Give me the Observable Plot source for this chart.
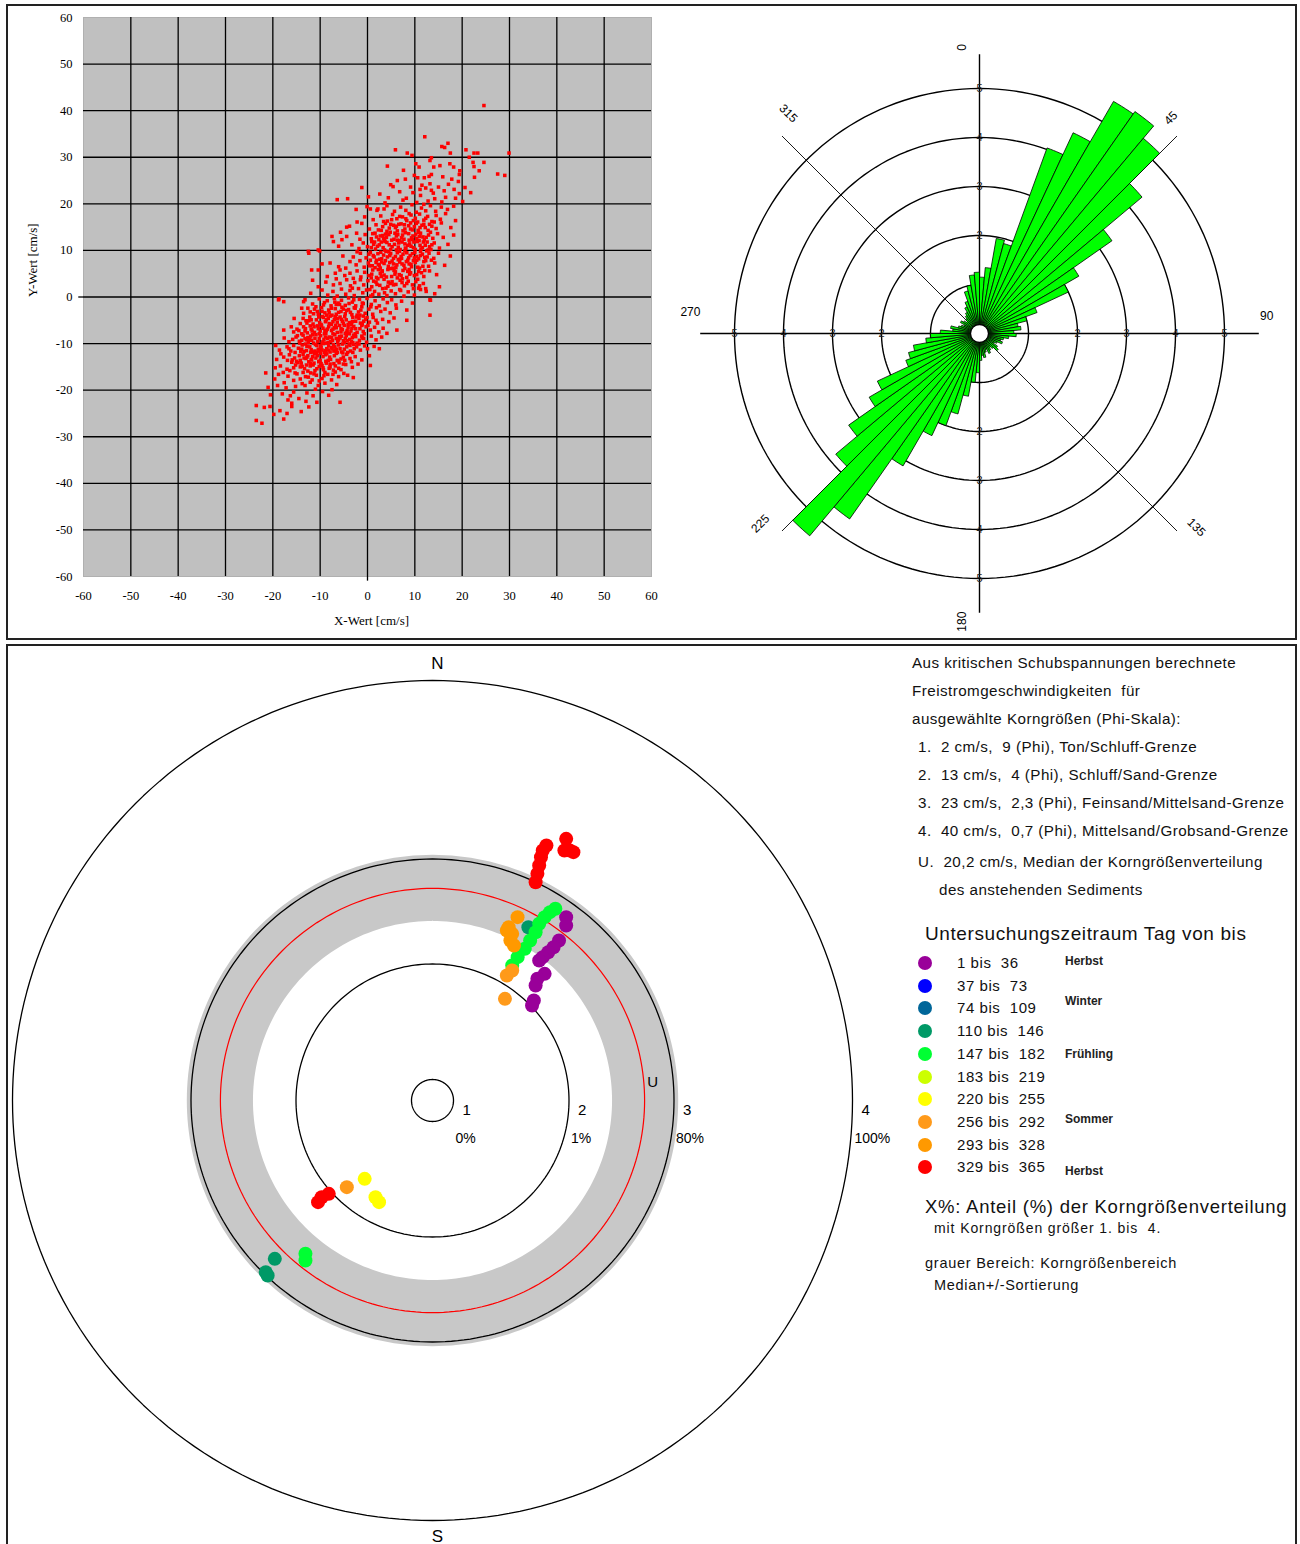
<!DOCTYPE html>
<html><head><meta charset="utf-8">
<script src="https://cdn.jsdelivr.net/npm/d3@7"></script>
<script src="https://cdn.jsdelivr.net/npm/@observablehq/plot@0.6"></script>
<style>
body{margin:0;background:#fff;width:1300px;height:1544px;position:relative;overflow:hidden;font-family:"Liberation Sans",Arial,sans-serif;color:#111}
.box{position:absolute;border:2px solid #222;box-sizing:border-box}
#topbox{left:6px;top:4px;width:1291px;height:636px}
#bottombox{left:6px;top:644px;width:1291px;height:940px}
.abs{position:absolute}
#notes div{position:absolute;white-space:pre;font-size:15.2px;line-height:18px;letter-spacing:0.45px}
#legend .row{position:absolute;left:0;height:20px;font-size:15px;line-height:20px;white-space:pre;letter-spacing:0.55px}
#legend .dot{position:absolute;left:-7px;top:3px;width:14px;height:14px;border-radius:50%}
#legend .season{position:absolute;left:140px;font-size:12px;white-space:pre;font-family:"Liberation Sans Narrow","Liberation Sans",sans-serif;font-weight:bold;color:#222}
</style></head><body>
<div id="topbox" class="box"></div>
<div id="bottombox" class="box"></div>
<div id="scatter" class="abs" style="left:10px;top:8px"></div>
<div id="rose" class="abs" style="left:665px;top:10px"></div>
<div id="polar" class="abs" style="left:10px;top:648px"></div>
<div id="notes" class="abs" style="left:912px;top:654px"></div>
<div id="legend" class="abs" style="left:925px;top:920px"></div>
<script>
// ---------- DATA ----------
const scatterTicks = [-60,-50,-40,-30,-20,-10,0,10,20,30,40,50,60];
const scatterXY = [
[-23.5,-23.3],[-21.8,-23.7],[-20.6,-23.5],[-23.5,-26.5],[-22.3,-27.1],[-18.5,-24.4],[-17.7,-26.2],[-16,-23.5],[-16,-22.8],[-16.3,-21.2],[-15.6,-20.4],[-17.2,-19.5],[-19,-19],[-13.2,-19],[-12.1,-18.3],[-10.4,-19],[-10.7,-22.6],[-7.5,-19.9],[-5.8,-22.6],[-20.5,-21],[-18,-20.8],[-14.5,-21.8],[-12.8,-20.6],[-11.5,-21.2],[-14,-24.6],[-13,-22.4],[-19.8,-25.2],[-9.5,-20.3],[-8.2,-21.1],[-15.2,-19.2],[-17.6,-18.4],[-11,-19.8],[-13.8,-18.6],[-16.8,-22.1],[-21,-19.4],[-12.4,-23.6],[-17,-25],[-9,-18.5],[-6.5,-18.8],
[-21.5,-16.3],[-18.8,-16.6],[-15.6,-17.9],[-14.9,-16.5],[-3,-17.3],[-6.1,-17.1],[-6.8,-16.1],[-12.5,-17.2],[-10.8,-16.8],[-9.6,-17.5],[-13.6,-16.2],[-11.7,-17.8],[-8.4,-16.6],[-16.8,-17],[-19.6,-17.6],[-7.6,-17.8],[-5,-16.4],[-12,-16.3],[-14.2,-17.6],[-10.2,-18],[-17.8,-16.2],[-9,-16.2],[-4.2,-16.8],
[-7.9,-15],[-16,-14],[-14.2,-15],[-12.1,-14.3],[-11.1,-15.8],[0.6,-14.7],[-18.4,-14.8],[-17,-15.5],[-15.2,-14.6],[-13.3,-15.4],[-10.2,-14.9],[-9.3,-15.6],[-8.7,-14.2],[-6.8,-14.8],[-5.6,-15.6],[-4.6,-14.5],[-12.6,-15.9],[-14,-14.2],[-11.5,-14.6],[-9.8,-14.3],[-7.2,-15.7],[-16.4,-15.8],[-3.2,-15.1],[-19.5,-15.2],[-10.7,-15.4],[-13.8,-14.9],[-8.1,-15.3],[-6,-14.1],[-15.6,-15.2],[-2,-14.4],
[-17.7,-12.9],[-14.2,-13.6],[-12.8,-12.9],[-10,-13.6],[-3.7,-13.2],[-8.6,-12.2],[-5.1,-12.9],[-19.2,-13.4],[-16.5,-12.4],[-15.4,-13.1],[-13.6,-12.3],[-11.9,-13.5],[-11.2,-12.2],[-9.4,-12.8],[-7.8,-13.4],[-7,-12.6],[-6.2,-13.7],[-4.4,-12.3],[-2.6,-12.8],[-1.2,-13.5],[-15,-13.8],[-12.4,-13.9],[-10.6,-12.6],[-8.8,-13.8],[-6.6,-12.1],[-13,-13.2],[-9.9,-12.1],[-16.9,-13.6],[-5.6,-13.3],[-11.6,-12.8],[-14.4,-12.6],[-8,-12.9],[0.4,-12.6],[-3.4,-13.9],[-18.3,-12.2],
[-15.6,-10.4],[-17,-10.7],[-6.8,-11.4],[-4.4,-10.7],[-2.3,-10.7],[2.5,-11.1],[0,-11.1],[-10.7,-10.4],[-9.3,-10],[-18.6,-11.4],[-16.2,-11.6],[-14.6,-11],[-13.8,-10.3],[-12.9,-11.5],[-12.2,-10.7],[-11.4,-11.8],[-10.4,-11.2],[-9.8,-10.8],[-8.9,-11.5],[-8.2,-10.5],[-7.5,-11.1],[-6.1,-10.3],[-5.5,-11.8],[-4.9,-11.2],[-3.6,-11.6],[-2.9,-10.2],[-1.5,-11.4],[-0.6,-10.5],[-13.1,-10.1],[-11,-10.2],[-9.1,-11.9],[-7.2,-10.2],[-6.4,-11.9],[-3.9,-10.1],[-14.1,-11.7],[-10.1,-11.6],[-8.6,-11.1],[-12,-11.9],[1.4,-10.6],[-19.4,-10.4],
[-13.2,-8.9],[-11.8,-9.3],[-0.8,-8.9],[-16.6,-9.6],[-15.1,-8.6],[-14.4,-9.5],[-13.6,-8.2],[-12.5,-9.8],[-12,-8.4],[-11.1,-8.9],[-10.5,-9.6],[-9.9,-8.3],[-9.2,-9.1],[-8.6,-9.9],[-8.1,-8.6],[-7.4,-9.3],[-6.9,-8.1],[-6.3,-9.7],[-5.8,-8.8],[-5.1,-9.4],[-4.5,-8.3],[-3.8,-9.1],[-3.1,-9.8],[-2.5,-8.5],[-1.7,-9.3],[-0.2,-9.7],[0.8,-8.4],[-10.9,-8.1],[-9.6,-9.9],[-7.8,-9.6],[-6.6,-8.9],[-4.8,-9.8],[-2.9,-8.2],[-12.9,-9.2],[-14.8,-8.3],[-8.4,-8.9],[-5.5,-8.4],[-3.4,-9.5],[-1.2,-8.4],[1.8,-9.2],[-17.6,-8.8],[3,-8.6],
[-17.7,-7.1],[-15.6,-7.5],[6.2,-7.1],[4.1,-7.8],[-16.1,-6.4],[-14.5,-7.2],[-13.5,-6.4],[-12.7,-7.7],[-11.9,-6.9],[-11.2,-7.6],[-10.6,-6.2],[-10,-7.3],[-9.4,-6.7],[-8.8,-7.8],[-8.2,-6.4],[-7.6,-7.2],[-7,-6.6],[-6.4,-7.6],[-5.9,-6.1],[-5.3,-7],[-4.7,-7.8],[-4.1,-6.5],[-3.5,-7.3],[-2.9,-6.3],[-2.2,-7.6],[-1.6,-6.8],[-0.9,-7.4],[-0.3,-6.4],[0.6,-7.1],[1.5,-6.5],[2.4,-7.5],[-12.1,-6.2],[-9.1,-7.9],[-6.7,-6.1],[-3.8,-7.9],[-1.2,-6.1],[-13.9,-7.9],[-8.5,-6.9],[-5.6,-7.5],[3.3,-6.7],
[-14.2,-5.7],[8.3,-5],[-15.5,-4.6],[-13,-5.1],[-12.2,-4.3],[-11.5,-5.8],[-10.8,-4.9],[-10.1,-5.5],[-9.5,-4.2],[-8.9,-5.3],[-8.3,-4.6],[-7.6,-5.9],[-7,-4.8],[-6.4,-5.4],[-5.8,-4.3],[-5.1,-5.7],[-4.5,-4.9],[-3.8,-5.5],[-3.1,-4.4],[-2.5,-5.2],[-1.8,-4.6],[-1.1,-5.8],[-0.4,-4.8],[0.4,-5.4],[1.2,-4.4],[2.1,-5.6],[3.2,-4.8],[4.5,-5.3],[-9.8,-5.9],[-6.8,-4.2],[-3.4,-5.9],[-0.9,-4.1],[1.8,-5],[-12.8,-5.6],[5.6,-4.5],
[-13.5,-3.5],[-13.9,-2.4],[-12.1,-3.2],[13.2,-3.9],[8.3,-2.8],[-11.2,-2.6],[-10.4,-3.7],[-9.7,-2.3],[-9,-3.4],[-8.2,-2.8],[-7.5,-3.9],[-6.8,-2.5],[-6.1,-3.3],[-5.4,-2.2],[-4.7,-3.6],[-4,-2.7],[-3.3,-3.8],[-2.6,-2.4],[-1.9,-3.2],[-1.2,-2.1],[-0.5,-3.5],[0.3,-2.6],[1.1,-3.7],[1.9,-2.3],[2.8,-3.1],[3.7,-2.6],[4.8,-3.4],[6.1,-2.4],[-8.6,-3.9],[-5.6,-3.1],[-2.2,-3.9],[0.7,-2.1],[-10.9,-2.1],
[-13.5,-1],[-13.2,-0.6],[-18.8,-0.6],[-17.7,-1],[13.2,-0.6],[-11.6,-1.5],[-10.2,-0.4],[-9.3,-1.7],[-8.5,-0.8],[-7.7,-1.9],[-7,-0.3],[-6.2,-1.3],[-5.5,-0.7],[-4.7,-1.8],[-4,-0.2],[-3.2,-1.1],[-2.5,-1.9],[-1.7,-0.5],[-0.9,-1.4],[-0.1,-0.3],[0.8,-1.6],[1.6,-0.8],[2.5,-1.9],[3.3,-0.4],[4.2,-1.2],[5.1,-0.6],[6,-1.7],[7.2,-0.9],[9.5,-1.3],[-6.6,-1.6],[-2.9,-0.6],[13.3,-0.7],[-18.7,-0.4],
[10.8,1.9],[12.4,1.2],[9.9,0.4],[-12,0.8],[-9.6,1.5],[-8.4,0.4],[-7.3,1.2],[-6.4,0.2],[-5.5,1.7],[-4.6,0.6],[-3.7,1.4],[-2.8,0.3],[-1.9,1.8],[-1,0.9],[-0.2,1.5],[0.7,0.2],[1.5,1.2],[2.4,0.6],[3.2,1.8],[4.1,0.3],[5,1.3],[5.9,0.7],[6.8,1.6],[7.7,0.2],[8.6,1.1],[3.6,0.9],[-3.2,1.9],[1.1,0.5],[14.2,0.7],[11.2,1.6],[12.3,1.8],
[-10.4,2.2],[-7.2,2.6],[-5.8,2.9],[-4.4,3.7],[-1.5,3.7],[-8.8,3.2],[-6.6,3.9],[-3.6,2.4],[-2.7,3.1],[-0.8,2.6],[0.1,3.5],[0.9,2.2],[1.8,3.2],[2.6,2.5],[3.5,3.8],[4.3,2.3],[5.2,3.3],[6,2.7],[6.9,3.6],[7.8,2.4],[8.6,3.4],[9.5,2.6],[10.6,3.8],[11.8,2.9],[2.2,3.9],[4.8,2.9],[7.3,3.1],[-11.6,3.6],[15.2,2.2],
[-3,4],[-10.4,5.8],[-11.8,5.8],[-5.8,5.8],[-6.8,5.1],[-3.7,5.1],[-8.5,4.4],[-2.2,5.6],[-1.4,4.3],[-0.6,5.3],[0.3,4.6],[1.1,5.8],[1.9,4.2],[2.7,5.1],[3.5,4.7],[4.3,5.9],[5.1,4.4],[5.9,5.4],[6.7,4.8],[7.5,5.7],[8.3,4.2],[9.1,5.2],[9.9,4.6],[10.8,5.5],[11.9,4.4],[13.1,5.6],[0.8,4.1],[3.1,5.6],[6.3,4.1],[8.8,5.9],[-4.8,4.6],[14.6,4.8],
[-7.9,7.3],[-6.1,6.5],[-3.7,7.6],[-9.6,7.1],[-4.6,6.2],[-2.4,6.9],[-1.6,7.8],[-0.7,6.4],[0.2,7.3],[1,6.7],[1.9,7.9],[2.7,6.2],[3.5,7.2],[4.4,6.6],[5.2,7.7],[6,6.3],[6.8,7.5],[7.7,6.8],[8.5,7.9],[9.3,6.5],[10.1,7.4],[11,6.2],[11.9,7.6],[12.9,6.6],[14.2,7.3],[2.3,7],[4.9,6.1],[7.3,7.1],[9.7,7.8],[0.6,7.9],[16.3,6.8],
[-3,8.6],[-1.5,9.4],[15,9.4],[-12.5,9.8],[-5.2,8.8],[-0.3,8.4],[0.6,9.6],[1.4,8.6],[2.2,9.3],[3,8.2],[3.9,9.8],[4.7,8.9],[5.5,8.3],[6.3,9.5],[7.1,8.7],[7.9,9.9],[8.7,8.4],[9.5,9.3],[10.4,8.7],[11.2,9.8],[12.1,8.5],[13,9.4],[14,8.3],[3.4,9],[6.8,8.1],[10,9.6],[12.5,9.9],[-2.2,9.7],[17.5,8.8],[-10.1,9.9],[-12.4,9.4],
[-10.4,10.1],[-7.2,11.9],[-6.1,10.9],[-1.8,10.4],[-0.9,11.6],[0,10.8],[0.9,11.9],[1.7,10.3],[2.5,11.2],[3.3,10.6],[4.1,11.7],[4.9,10.2],[5.7,11.3],[6.5,10.7],[7.3,11.8],[8.1,10.4],[8.9,11.4],[9.7,10.6],[10.5,11.9],[11.3,10.3],[12.2,11.1],[13.1,10.8],[14.1,11.6],[15.2,10.5],[3.7,11.9],[6.1,10.1],[9.2,10.9],[11.8,11.8],[-3.3,11.2],[17,11.3],
[-7.5,13],[-4.4,13],[-2.3,13.7],[-0.5,13.4],[0.8,12.5],[1.6,13.7],[2.4,12.3],[3.2,13.2],[4,12.8],[4.8,13.9],[5.6,12.4],[6.4,13.4],[7.2,12.7],[8,13.8],[8.8,12.2],[9.6,13.1],[10.4,12.6],[11.2,13.7],[12,12.3],[12.9,13.3],[13.8,12.6],[14.8,13.6],[16,12.8],[6.8,12.1],[10.8,13.9],[3.6,12.1],[-1.6,12.4],[18.2,13.3],[-5.4,12.3],[-5.7,13.9],
[-3.8,15.2],[0.4,14.6],[1.8,15.5],[2.9,14.3],[3.8,15.8],[4.6,14.8],[5.5,15.4],[6.3,14.2],[7.1,15.7],[7.9,14.6],[8.7,15.3],[9.5,14.4],[10.3,15.8],[11.1,14.9],[11.9,15.6],[12.8,14.3],[13.6,15.2],[14.5,14.7],[15.6,15.9],[9.1,15.9],[6.6,15.6],[17.6,14.9],[-1.2,15.8],[-4.4,15],
[1.2,16.6],[2.8,17.4],[4.2,16.3],[5.3,17.7],[6.2,16.8],[7.4,17.2],[8.3,16.4],[9.2,17.6],[10.1,16.9],[11,17.8],[11.9,16.5],[12.7,17.3],[13.6,16.2],[14.5,17.5],[15.4,16.7],[16.5,17.9],[8.8,17.9],[10.6,16.1],[-0.6,17.2],[18.6,16.4],[-2.2,16.1],
[2.2,18.9],[4.1,19.6],[5.7,18.4],[7,19.3],[8.1,18.6],[9.4,19.8],[10.3,18.2],[11.4,19.1],[12.3,18.5],[13.3,19.6],[14.4,18.4],[15.6,19.3],[16.9,18.8],[11.9,19.9],[-2.4,18.8],[18.2,19.5],[-0.1,19.4],[0.6,18.9],[2,18.6],[3.5,18.9],
[-6.4,20.9],[-4.2,21.1],[15,23.6],[16.2,22.8],[17.1,24.2],[18.3,23.1],[19.4,22.2],[20.6,23.5],[21.8,22.4],[16.5,21.4],[14.2,21.1],[11.2,21.8],[9.6,22.4],[8.2,21.2],[6.8,22.6],[4.4,21.3],[2.6,22.1],[12.8,20.6],[15.7,20.4],[18.6,21.2],[10.4,20.3],[7.5,20.8],[20.1,20.5],[3.7,20.2],[13.9,22.3],[17.8,25.3],[15.9,25.8],[9.1,23.6],[11.1,23.1],[19.2,24.8],[22.6,25.7],[7.6,27.2],[0.2,21.5],[-1.2,23.5],
[24.6,41.1],[12.1,34.4],[5.9,31.6],[8.4,30.9],[9.4,30.4],[15.7,32.3],[16.3,32.1],[17,33],[17.5,30.9],[20.8,31.6],[22.5,30.9],[23.3,30.9],[29.9,30.9],[13.5,29.9],[13.2,29.3],[21.5,30],[22.3,28.9],[22.5,28],[24.6,28.9],[23.6,27.1],[27.5,26.4],[29,26.1],[4.2,28.1],[10.2,28.6],[10.9,27.9],[14,27.9],[15.3,28.2],[17.4,28.6],[18.2,27.9],[19.5,27.1],[19.4,26.3],[13.5,26.3],[9.9,26.1],[10.6,25.6],[12,25.6],[13,25.9],[6.3,25],[8,25.3],[4.9,24.1],[5.4,23.7],[11.5,24],[12.3,23.4],[13.2,24.3],[13.5,22.9],
[1.3,3.4],[2.9,4.4],[4.4,3.2],[5.8,4.9],[7.4,3.9],[8.9,4.9],[10.2,3.3],[11.4,5.2],[1.6,6.3],[3.1,5.5],[4.7,7.4],[6.2,6.9],[7.9,6.1],[9.2,7],[10.6,6.4],[12.1,5.7],[1.2,8.9],[2.6,8.1],[4.2,8.6],[5.9,8.7],[7.5,9.2],[9,8.9],[10.8,8.2],[12.3,7.8],[0.8,10.6],[2.1,10.9],[3.6,10.1],[5.2,10.8],[6.9,10.2],[8.5,11.1],[10.1,10.2],[11.6,10.6],[1.9,12.9],[3.4,12.6],[5.1,12.2],[6.1,13.1],[7.7,12.4],[9.3,12.7],[10.9,12.1],[12.4,12.8],[2.3,14.4],[4.1,14.1],[5.9,14.9],[7.5,14.2],[9.1,14.6],[10.7,14.3],[12.2,14.9],[13.3,13.9],[0.4,6.7],[2.5,6.8],[5.4,6.2],[8.2,7.6],[11.2,8.9],[3.8,13.5],[6.6,11.6],[9.8,11.8],[8,10.5],[4.5,9.7],[6.5,8],[3,7.5],[11,13],[12.8,10.1],[13.6,11.2],[1.5,11.8],
[-13.4,-13.1],[-11.8,-13.4],[-10.3,-13.9],[-8.3,-13.6],[-7.1,-14.3],[-5.1,-14.4],[-13.9,-11.2],[-12.6,-12.6],[-11.1,-11.6],[-9.6,-11.4],[-7.9,-11.8],[-6.6,-11.2],[-5.2,-12],[-3.1,-11.9],[-14.3,-9.9],[-12.8,-10.6],[-11.4,-9.9],[-9.9,-10.5],[-8.3,-9.8],[-6.9,-10.7],[-5.3,-10.1],[-3.7,-10.4],[-2.2,-9.9],[-13.2,-7.3],[-11.6,-8.1],[-10.2,-7.9],[-8.9,-8.6],[-7.3,-7.9],[-5.9,-8.5],[-4.3,-7.2],[-2.6,-7.9],[-1.1,-8.8],[-12.4,-5.1],[-11.3,-6.4],[-9.7,-6.2],[-8.1,-5.7],[-6.6,-6.6],[-4.9,-6.1],[-3.3,-6.7],[-1.5,-5.6],[0.1,-6.1],[-10.6,-3.1],[-9.3,-4.4],[-7.9,-4.1],[-6.3,-4.6],[-4.8,-4.2],[-3.2,-5.3],[-1.6,-3.9],[-0.1,-4.4],[-9.1,-1.2],[-7.6,-2.4],[-5.9,-1.6],[-4.4,-2.9],[-2.8,-2.3],[-1.1,-1.3],[-12.1,-14.8],[-9.4,-15.2],[-6.1,-15.3],[-10.9,-13.1],[-8.9,-12.4],[-7.6,-10.9],[-4.3,-9.4],[-12.2,-9.1],[-6.1,-9.2],[-9,-7.2],[-5.3,-5.2],
[0.5,1.6],[2,2.7],[3.9,1.9],[5.5,2.6],[7,1.4],[8.3,2.9],[9.7,1.8],[11,2.4],[0.9,4.9],[2.3,5.9],[4,4.3],[5.6,5.7],[7.1,4.6],[8.5,5.5],[10.4,4.8],[11.7,6.6],[1.8,7.4],[3.8,7.8],[5.5,7.1],[7.2,8.3],[8.8,7.1],[10.4,7.9],[12.6,8.6],[13.5,7.9],[0.3,9.2],[2.8,9.6],[4.9,9.3],[6.7,9.8],[8.3,9.5],[9.9,8.4],[11.6,9.2],[13.4,10.2],[1.3,11.3],[2.9,11.8],[4.6,11.2],[6.3,12.2],[7.9,11.4],[9.5,12.3],[11.1,11.1],[12.6,11.8],[1.1,13.6],[2.7,13.1],[4.5,13.4],[5.8,13.7],[7.4,13.3],[8.7,13.6],[10.2,13.5],[11.7,12.9],[3.2,15.1],[4.9,15.6],[6.1,15.2],[7.8,15.5],[9.9,15.1],[11.5,15.4],[13.1,15.6],[8.1,16.8],[5.1,16.6],[6.8,17.3],[9.7,16.4],[12.3,16.9],[14.1,16.1],[3.4,16.2],
[-15.3,-16.3],[-13.1,-17.1],[-11.3,-16.5],[-9.2,-16.9],[-7.3,-16.6],[-15.9,-13.5],[-14.7,-14.1],[-12.9,-14.6],[-11.3,-14.2],[-9.6,-14.7],[-7.9,-14.4],[-6.4,-13.6],[-4.8,-13.6],[-16.6,-11.1],[-15.3,-11.9],[-13.4,-11.7],[-11.9,-11.3],[-10.7,-11.9],[-8.3,-11.4],[-7.1,-11.6],[-5.8,-11.1],[-4.2,-11.9],[-2.8,-11.1],[-15.8,-9.1],[-13.9,-9.3],[-12.6,-8.7],[-10.2,-8.9],[-9.4,-9.6],[-7.6,-8.7],[-6.3,-9.1],[-4.7,-8.9],[-3.2,-8.7],[-1.8,-10.1],[-14.9,-6.9],[-13.1,-6.8],[-11.7,-7.3],[-10.4,-6.8],[-8.7,-7.2],[-7.3,-6.9],[-5.6,-6.8],[-4.4,-7.6],[-2.5,-6.8],[-0.7,-7.9],[-13.6,-4.6],[-11.9,-4.9],[-10.3,-4.3],[-8.7,-4.9],[-7.3,-5.3],[-5.5,-4.8],[-4.1,-5.9],[-2.3,-4.3],[-0.8,-5.2],[-12.6,-2.4],[-11.4,-3.6],[-9.6,-3.1],[-8.1,-3.4],[-6.6,-3.7],[-5.1,-2.6],[-3.6,-3.3],[-1.4,-2.8],[-6.9,-1.1],[-3.9,-1.4]
];

// Rose diagram: 5-degree direction classes (0-5, 5-10, ... 355-360), class frequency (%)
const roseBinWidth = 5;
const roseValues = [
 1.15,1.35,1.97,1.9,4.03,4.52,5.47,5.53,5.2,4.33,3.3,2.34,
 2.0,1.25,1.0,0.8,0.85,0.7,0.75,0.6,0.5,0.45,0.5,0.4,
 0.35,0.45,0.5,0.4,0.35,0.4,0.45,0.35,0.4,0.5,0.45,0.55,
 0.8,1.0,1.3,1.7,2.0,2.3,3.12,4.62,5.39,3.83,3.26,2.6,
 2.3,1.6,1.5,1.37,1.1,1.0,0.8,0.55,0.6,0.45,0.4,0.35,
 0.45,0.4,0.35,0.4,0.45,0.5,0.6,0.7,0.9,1.0,1.2,1.25];
const roseRings = [1,2,3,4,5];
const roseRingLabelValues = [2,3,4,5];
const roseAngleLabels = [0,45,90,135,180,225,270,315];
const roseAxisLength = 5.7;

// Bottom polar diagram (cm/s)
const ringValues = [2,13,23,40];
const ringLabels = ["1","2","3","4"];
const ringPercents = ["0%","1%","80%","100%"];
const medianU = 20.2;
const bandInner = 17.1, bandOuter = 23.4;
const periods = ["1 bis  36","37 bis  73","74 bis  109","110 bis  146","147 bis  182","183 bis  219","220 bis  255","256 bis  292","293 bis  328","329 bis  365"];
const periodColors = ["#990099","#0000ff","#006699","#009966","#00ff33","#ccff00","#ffff00","#ff9a1a","#ff9900","#ff0000"];
const seasonNames = ["Herbst","Winter","Frühling","Sommer","Herbst"];
const seasonRows = [0, 1.75, 4.1, 6.95, 9.25];
// flow means: east, north (cm/s), period index
const flowEast  = [12.73,12.73,12.05,11.53,11.02,10.5,10.16,10.68,9.99,9.82,9.65,9.48,
  9.13,-15.02,-15.88,-15.7,
  7.59,8.11,8.79,9.3,9.82,10.16,10.68,11.19,11.7,-12.1,-12.1,
  -6.46,-5.43,-5.09,
  7.08,7.59,6.9,-8.16,
  8.1,7.25,7.59,7.42,7.76,7.08,
  9.82,9.99,10.16,10.33,10.5,10.85,12.73,13.08,13.42,12.56,-10.56,-9.88,-10.9];
const flowNorth = [17.46,16.67,15.24,14.6,14.12,13.65,13.33,12.06,11.59,10.95,9.52,9.05,
  16.5,-15.08,-16.35,-16.67,
  12.86,13.65,14.45,15.24,16.03,16.83,17.46,17.94,18.26,-14.6,-15.24,
  -7.46,-9.21,-9.68,
  11.9,12.38,9.68,-8.25,
  17.46,16.51,15.87,15.24,14.76,16.19,
  20.79,21.59,22.38,23.17,23.81,24.29,24.92,23.81,23.65,23.81,-9.21,-8.89,-9.68];
const flowPeriod = [0,0,0,0,0,0,0,0,0,0,0,0,
  3,3,3,3,
  4,4,4,4,4,4,4,4,4,4,4,
  6,6,6,
  7,7,7,7,
  8,8,8,8,8,8,
  9,9,9,9,9,9,9,9,9,9,9,9,9];

const noteLines = [
 "Aus kritischen Schubspannungen berechnete",
 "Freistromgeschwindigkeiten  für",
 "ausgewählte Korngrößen (Phi-Skala):",
 "1.  2 cm/s,  9 (Phi), Ton/Schluff-Grenze",
 "2.  13 cm/s,  4 (Phi), Schluff/Sand-Grenze",
 "3.  23 cm/s,  2,3 (Phi), Feinsand/Mittelsand-Grenze",
 "4.  40 cm/s,  0,7 (Phi), Mittelsand/Grobsand-Grenze",
 "U.  20,2 cm/s, Median der Korngrößenverteilung",
 "des anstehenden Sediments"];

// ---------- HELPERS ----------
const rad = a => a * Math.PI / 180;
function circlePts(r, id, n = 180) {
  return d3.range(n + 1).map(k => ({x: r * Math.sin(rad(k * 360 / n)), y: r * Math.cos(rad(k * 360 / n)), id}));
}

// ---------- SCATTER ----------
const scatter = Plot.plot({
  width: 650, height: 626,
  marginLeft: 73, marginRight: 9, marginTop: 9, marginBottom: 58,
  style: {fontFamily: "'Liberation Serif','Times New Roman',serif", fontSize: "12.5px", background: "transparent", color: "#000", overflow: "visible"},
  x: {domain: [-60, 60], ticks: scatterTicks, tickSize: 0, tickPadding: 15, tickFormat: d => String(d), label: null},
  y: {domain: [-60, 60], ticks: scatterTicks, tickSize: 0, tickPadding: 11, tickFormat: d => String(d), label: null},
  marks: [
    Plot.frame({fill: "#c0c0c0", stroke: "#b0b0b0"}),
    Plot.ruleX(scatterTicks.slice(1, -1), {stroke: "#000", strokeWidth: 1.3}),
    Plot.ruleY(scatterTicks.slice(1, -1), {stroke: "#000", strokeWidth: 1.3}),
    Plot.ruleY([0], {x1: -61, x2: -60, stroke: "#000", strokeWidth: 1.3}),
    Plot.ruleX([0], {y1: -61, y2: -60, stroke: "#000", strokeWidth: 1.3}),
    Plot.dot(scatterXY, {x: d => d[0], y: d => d[1], symbol: "square", r: 2.0, fill: "#ff0000", stroke: null}),
    Plot.text(["X-Wert [cm/s]"], {frameAnchor: "bottom", dy: 48, dx: 4, fontSize: 13}),
    Plot.text(["Y-Wert [cm/s]"], {frameAnchor: "left", dx: -51, rotate: -90, fontSize: 13})
  ]
});
document.getElementById("scatter").appendChild(scatter);

// ---------- ROSE ----------
const U = 49; // px per unit (for label pixel offsets)
const wedges = roseValues.flatMap((v, i) => {
  const a0 = i * roseBinWidth;
  const pts = [{x: 0, y: 0, id: i}];
  for (let k = 0; k <= 5; k++) {
    const a = rad(a0 + k * roseBinWidth / 5);
    pts.push({x: v * Math.sin(a), y: v * Math.cos(a), id: i});
  }
  pts.push({x: 0, y: 0, id: i});
  return pts;
});
const ringPts = roseRings.flatMap(r => circlePts(r, r));
const axes = [0, 45, 90, 135].map(a => ({a, x1: -roseAxisLength * Math.sin(rad(a)), y1: -roseAxisLength * Math.cos(rad(a)), x2: roseAxisLength * Math.sin(rad(a)), y2: roseAxisLength * Math.cos(rad(a))}));
const ringNum = roseRingLabelValues.flatMap(r => [0, 90, 180, 270].map(a => ({x: r * Math.sin(rad(a)), y: r * Math.cos(rad(a)), t: String(r)})));
const angleOff = {0: [-17, 0, -90, 5.84], 45: [-12, -12, -45, 5.87], 90: [0, -17, 0, 5.86], 135: [11, -12, 45, 5.94],
                  180: [-17, 0, -90, 5.88], 225: [-14, -15, -45, 5.92], 270: [0, -21, 0, 5.9], 315: [15, -14, 45, 5.95]};
const angleLab = roseAngleLabels.map(a => {
  const [ox, oy, rot, r] = angleOff[a];
  return {x: r * Math.sin(rad(a)) + ox / U, y: r * Math.cos(rad(a)) - oy / U, t: String(a), rot};
});
const rose = Plot.plot({
  width: 625, height: 625, margin: 0,
  style: {fontFamily: "'Liberation Sans',Arial,sans-serif", fontSize: "12px", background: "transparent", color: "#000", overflow: "visible"},
  x: {domain: [-314 / U, 311 / U], axis: null},
  y: {domain: [-302 / U, 323 / U], axis: null},
  marks: [
    Plot.line(ringPts, {x: "x", y: "y", z: "id", stroke: "#000", strokeWidth: 1.4}),
    Plot.link(axes, {x1: "x1", y1: "y1", x2: "x2", y2: "y2", stroke: "#000", strokeWidth: d => (d.a % 90 === 0 ? 1.4 : 0.9)}),
    Plot.text(ringNum, {x: "x", y: "y", text: "t", fontSize: 11, fill: "#222"}),
    Plot.line(wedges, {x: "x", y: "y", z: "id", fill: "#00ff00", stroke: "#000", strokeWidth: 0.8, strokeLinejoin: "round"}),
    Plot.dot([0], {x: () => 0, y: () => 0, r: 9, fill: "#fff", stroke: "#000", strokeWidth: 1.3}),
    Plot.text(angleLab, {x: "x", y: "y", text: "t", rotate: "rot", fontSize: 12})
  ]
});
document.getElementById("rose").appendChild(rose);

// ---------- POLAR ----------
const bandPts = [...circlePts(bandOuter, 0, 240), ...circlePts(bandInner, 0, 240).reverse()];
const ringsBottom = ringValues.flatMap((r, i) => circlePts(r, i, 240));
const flows = flowEast.map((e, i) => ({e, n: flowNorth[i], p: flowPeriod[i]}));
const polar = Plot.plot({
  width: 850, height: 896,
  marginLeft: 2, marginRight: 8, marginTop: 32, marginBottom: 24,
  style: {fontFamily: "'Liberation Sans',Arial,sans-serif", fontSize: "14px", background: "transparent", color: "#000", overflow: "visible"},
  x: {domain: [-40, 40], axis: null},
  y: {domain: [-40, 40], axis: null},
  color: {type: "identity"},
  marks: [
    Plot.line(bandPts, {x: "x", y: "y", fill: "#c8c8c8", stroke: null}),
    Plot.line(ringsBottom, {x: "x", y: "y", z: "id", stroke: "#000", strokeWidth: 1.3}),
    Plot.line(circlePts(medianU, 0, 240), {x: "x", y: "y", stroke: "#ff0000", strokeWidth: 1.2}),
    Plot.dot(flows, {x: "e", y: "n", fill: d => periodColors[d.p], r: 7, stroke: null}),
    Plot.text(ringValues, {x: d => d, y: () => 0, text: (d, i) => ringLabels[i], textAnchor: "start", dx: 9, dy: 10, fontSize: 15}),
    Plot.text(ringValues, {x: d => d, y: () => 0, text: (d, i) => ringPercents[i], textAnchor: "start", dx: 2, dy: 38, fontSize: 14}),
    Plot.text([medianU], {x: d => d, y: () => 0, text: () => "U", dx: 8, dy: -18, fontSize: 15}),
    Plot.text([40], {x: () => 0, y: d => d, text: () => "N", dx: 5, dy: -17, fontSize: 17}),
    Plot.text([-40], {x: () => 0, y: d => d, text: () => "S", dx: 5, dy: 16, fontSize: 17})
  ]
});
document.getElementById("polar").appendChild(polar);

// ---------- NOTES & LEGEND ----------
const notes = d3.select("#notes");
noteLines.forEach((t, i) => {
  notes.append("div").style("top", (i * 28 + (i >= 7 ? 3 : 0)) + "px")
    .style("left", (i < 3 ? 0 : i < 8 ? 6 : 27) + "px").text(t);
});
const lg = d3.select("#legend");
lg.append("div").attr("class", "row").style("top", "3px").style("font-size", "19px").style("line-height", "22px").style("letter-spacing", "0.6px").text("Untersuchungszeitraum Tag von bis");
periods.forEach((p, i) => {
  const row = lg.append("div").attr("class", "row").style("top", (33 + i * 22.7) + "px");
  row.append("span").attr("class", "dot").style("background", periodColors[i]);
  row.append("span").style("position", "absolute").style("left", "32px").text(p);
});
seasonNames.forEach((s, i) => {
  lg.append("div").attr("class", "season").style("top", (34 + seasonRows[i] * 22.7) + "px").text(s);
});
lg.append("div").attr("class", "row").style("top", "277px").style("font-size", "18.5px").style("letter-spacing", "0.75px").text("X%: Anteil (%) der Korngrößenverteilung");
lg.append("div").attr("class", "row").style("top", "298px").style("left", "9px").style("font-size", "14px").style("letter-spacing", "0.9px").text("mit Korngrößen größer 1. bis  4.");
lg.append("div").attr("class", "row").style("top", "333px").style("font-size", "14.5px").style("letter-spacing", "0.75px").text("grauer Bereich: Korngrößenbereich");
lg.append("div").attr("class", "row").style("top", "355px").style("left", "9px").style("font-size", "14.5px").style("letter-spacing", "0.7px").text("Median+/-Sortierung");
</script>
</body></html>
